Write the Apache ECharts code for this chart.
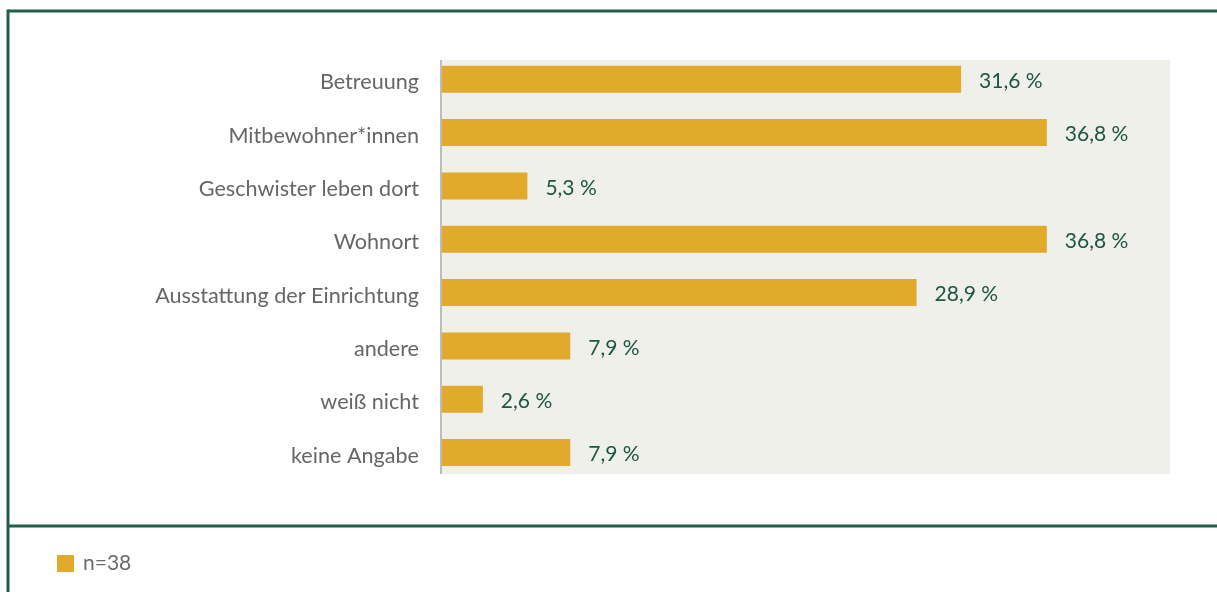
<!DOCTYPE html>
<html>
<head>
<meta charset="utf-8">
<script src="https://cdn.jsdelivr.net/npm/echarts@6/dist/echarts.min.js"></script>
<style>
  html, body { margin: 0; padding: 0; background: #fff; }
  #chart { width: 1217px; height: 592px; }
</style>
</head>
<body>
<div id="chart"></div>
<script>
// Kategorien und Anteile (in %)
var categories = ['Betreuung', 'Mitbewohner*innen', 'Geschwister leben dort', 'Wohnort',
  'Ausstattung der Einrichtung', 'andere', 'weiß nicht', 'keine Angabe'];
var values = [31.6, 36.8, 5.3, 36.8, 28.9, 7.9, 2.6, 7.9];
var seriesName = 'n=38';

var FONT = 'Lato, "Open Sans", sans-serif';
var frameColor = '#235f4a';

var chart = echarts.init(document.getElementById('chart'));
chart.setOption({
  animation: false,
  textStyle: { fontFamily: FONT },
  grid: { left: 440, top: 52.6, width: 659.6, height: 426.6 },
  legend: {
    left: 52, top: 548,
    icon: 'rect', itemWidth: 17, itemHeight: 17, itemGap: 10,
    itemStyle: { borderWidth: 0 },
    textStyle: { color: '#6b6b6b', fontSize: 21, fontFamily: FONT, padding: [0, 0, 0, 4] },
    data: [seriesName]
  },
  xAxis: {
    type: 'value', min: 0, max: 40, show: false
  },
  yAxis: {
    type: 'category', data: categories, inverse: true,
    axisLine: { show: false }, axisTick: { show: false },
    axisLabel: { color: '#666666', fontSize: 21.6, margin: 21, fontFamily: FONT, lineHeight: 30, verticalAlign: 'top', padding: [-12, 0, 0, 0] }
  },
  series: [{
    name: seriesName, type: 'bar', data: values, barWidth: 27,
    itemStyle: { color: '#e1aa2a' },
    label: {
      show: true, position: 'right', distance: 18, offset: [0, 2],
      color: '#1d5642', fontSize: 21, fontFamily: FONT,
      formatter: function (p) { return p.value.toFixed(1).replace('.', ',') + ' %'; }
    }
  }],
  graphic: [
    // Hintergrund der Zeichenfläche
    { type: 'rect', z: -10, silent: true, shape: { x: 440, y: 60, width: 730, height: 414 }, style: { fill: '#f0f0eb' } },
    { type: 'line', z: 10, silent: true, shape: { x1: 441, y1: 60, x2: 441, y2: 474 }, style: { stroke: '#bdbdbd', lineWidth: 2 } },
    // Rahmen
    { type: 'line', silent: true, shape: { x1: 8, y1: 11, x2: 1217, y2: 11 }, style: { stroke: frameColor, lineWidth: 3 } },
    { type: 'line', silent: true, shape: { x1: 8, y1: 9.5, x2: 8, y2: 592 }, style: { stroke: frameColor, lineWidth: 3 } },
    { type: 'line', silent: true, shape: { x1: 8, y1: 526, x2: 1217, y2: 526 }, style: { stroke: frameColor, lineWidth: 3 } }
  ]
});
</script>
</body>
</html>
